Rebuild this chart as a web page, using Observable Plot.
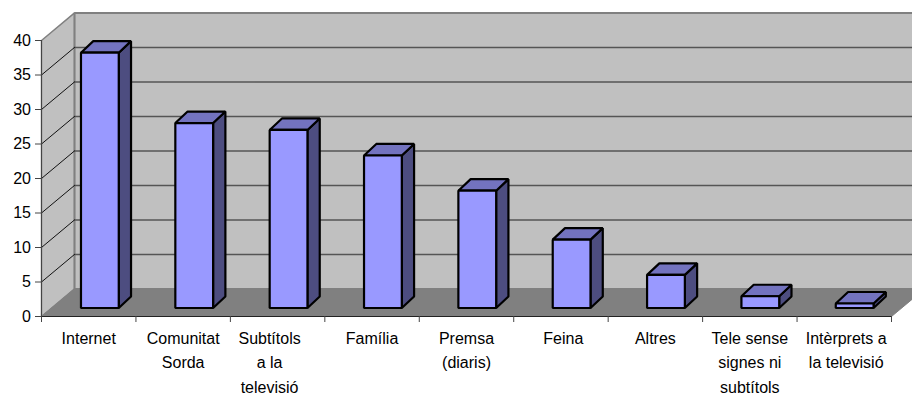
<!DOCTYPE html>
<html>
<head>
<meta charset="utf-8">
<script src="https://cdn.jsdelivr.net/npm/d3@7"></script>
<script src="https://cdn.jsdelivr.net/npm/@observablehq/plot@0.6"></script>
<style>
  html, body { margin: 0; padding: 0; background: #fff; overflow: hidden; }
  svg { display: block; }
</style>
</head>
<body>
<script>
// Mitjans d'informació: one column per category, drawn as an oblique 3D box.
const categories = [
  "Internet",
  "Comunitat\nSorda",
  "Subtítols\na la\ntelevisió",
  "Família",
  "Premsa\n(diaris)",
  "Feina",
  "Altres",
  "Tele sense\nsignes ni\nsubtítols",
  "Intèrprets a\nla televisió"
];
const values = [37, 26.8, 25.8, 22.1, 17, 9.9, 4.8, 1.7, 0.65];
const valueTicks = [0, 5, 10, 15, 20, 25, 30, 35, 40];
const gridTicks = [5, 10, 15, 20, 25, 30, 35];

// Oblique projection, in data units: x in categories, y in axis values.
const roomRun = 0.35, roomRise = 4;
const barStart = 0.418, barWidth = 0.4, barStep = 0.999, barRun = 0.13, barRise = 1.67, barBase = 1.234;
const n = categories.length;

// A few wrapped labels sit slightly off their slot centre.
const labelShift = i => (i === 2 ? -0.085 : i === 5 ? 0.025 : i === 8 ? 0.02 : 0);

const wallColor = "#c0c0c0", floorColor = "#808080", edgeColor = "#808080";
const frontColor = "#9999ff", topColor = "#7373bf", sideColor = "#4d4d80";

const poly = (id, corners) => corners.map(([x, y]) => ({id, x, y}));

const backWall = poly("back", [[roomRun, roomRise], [n + roomRun, roomRise], [n + roomRun, 40 + roomRise], [roomRun, 40 + roomRise]]);
const sideWall = poly("side", [[0, 0], [roomRun, roomRise], [roomRun, 40 + roomRise], [0, 40]]);
const floor = poly("floor", [[0, 0], [n, 0], [n + roomRun, roomRise], [roomRun, roomRise]]);

const backGrid = gridTicks.flatMap(v => poly(v, [[roomRun, v + roomRise], [n + roomRun, v + roomRise]]));
const sideGrid = gridTicks.flatMap(v => poly(v, [[0, v], [roomRun, v + roomRise]]));

const fronts = values.flatMap((v, i) => {
  const a = i * barStep + barStart, b = a + barWidth;
  return poly(i, [[a, barBase], [b, barBase], [b, barBase + v], [a, barBase + v]]);
});
const tops = values.flatMap((v, i) => {
  const a = i * barStep + barStart, b = a + barWidth, y = barBase + v;
  return poly(i, [[a, y], [b, y], [b + barRun, y + barRise], [a + barRun, y + barRise]]);
});
const sides = values.flatMap((v, i) => {
  const b = i * barStep + barStart + barWidth;
  return poly(i, [[b, barBase], [b + barRun, barBase + barRise], [b + barRun, barBase + barRise + v], [b, barBase + v]]);
});

const face = (data, fill, stroke, strokeWidth) => Plot.line(data, {
  x: "x", y: "y", z: "id", fill, stroke, strokeWidth,
  curve: "linear-closed", strokeLinejoin: "miter", strokeLinecap: "butt"
});

const plot = Plot.plot({
  width: 912,
  height: 398,
  marginLeft: 41,
  marginRight: 21,
  marginTop: 40,
  marginBottom: 82,
  style: {fontFamily: "'Liberation Sans', Arial, sans-serif", fontSize: "16px", background: "#fff", color: "#000"},
  x: {domain: [0, n], axis: null},
  y: {domain: [0, 40], axis: null},
  marks: [
    face(sideWall, wallColor, edgeColor, 1.5),
    face(backWall, wallColor, edgeColor, 2),
    face(floor, floorColor, floorColor, 1),
    Plot.line(backGrid, {x: "x", y: "y", z: "id", stroke: "#555", strokeWidth: 1.5}),
    Plot.line(sideGrid, {x: "x", y: "y", z: "id", stroke: "#111", strokeWidth: 1}),
    face(sides, sideColor, "#000", 2.2),
    face(tops, topColor, "#000", 2.2),
    face(fronts, frontColor, "#000", 2.2),
    Plot.ruleX([0], {y1: 0, y2: 40, stroke: "#444", strokeWidth: 1}),
    Plot.ruleY([0], {x1: 0, x2: n, stroke: "#222", strokeWidth: 1}),
    Plot.axisY({ticks: valueTicks, tickSize: 6, tickPadding: 4.5, tickFormat: d => d, stroke: "#444", fontSize: 16, label: null}),
    Plot.axisX({ticks: d3.range(n + 1), tickSize: 6, tickFormat: null, text: null, stroke: "#444", label: null}),
    Plot.text(categories, {
      x: (d, i) => i + 0.5 + labelShift(i),
      y: () => 0,
      text: d => d,
      dy: 9.5,
      lineAnchor: "top",
      lineHeight: 1.55,
      textAnchor: "middle",
      fontSize: 16,
      fill: "#000"
    })
  ]
});
document.body.appendChild(plot);
</script>
</body>
</html>
